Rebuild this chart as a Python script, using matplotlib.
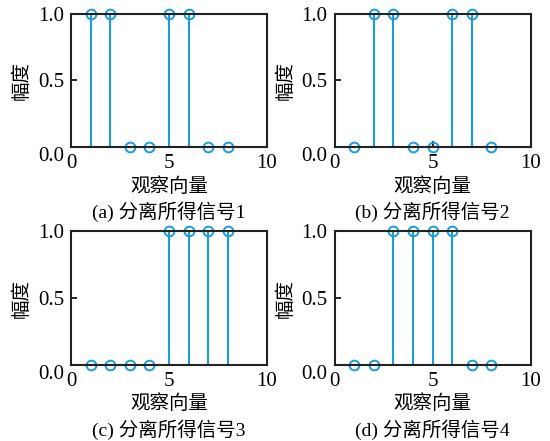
import matplotlib
matplotlib.use("Agg")
import matplotlib.pyplot as plt
import matplotlib.transforms as mtransforms

plt.rcParams['font.family'] = ['Liberation Serif', 'Noto Sans CJK SC']

# observation indices and the separated signals
obs = [1, 2, 3, 4, 5, 6, 7, 8]
sig1 = [1, 1, 0, 0, 1, 1, 0, 0]
sig2 = [0, 1, 1, 0, 0, 1, 1, 0]
sig3 = [0, 0, 0, 0, 1, 1, 1, 1]
sig4 = [0, 0, 1, 1, 1, 1, 0, 0]
signals = [sig1, sig2, sig3, sig4]
captions = ["(a) 分离所得信号1", "(b) 分离所得信号2",
            "(c) 分离所得信号3", "(d) 分离所得信号4"]
xticks = [0, 5, 10]
yticks = [0.0, 0.5, 1.0]
xlabel = "观察向量"
ylabel = "幅度"

W, H = 550, 441
fig = plt.figure(figsize=(W / 100, H / 100), dpi=100)

# axes boxes in pixels: (left, top, right, bottom)
boxes = [(71, 14, 267, 147), (334.5, 14, 530.5, 147),
         (71, 231, 267, 365), (334.5, 231, 530.5, 365)]
xlabel_y = [187, 187, 404, 404]
caption_y = [212, 212, 430, 430]

color = '#1b9cdb'
for i, (sig, cap, box) in enumerate(zip(signals, captions, boxes)):
    l, t, r, b = box
    ax = fig.add_axes([l / W, 1 - b / H, (r - l) / W, (b - t) / H])
    markerline, stemlines, baseline = ax.stem(obs, sig)
    markerline.set_markerfacecolor('none')
    markerline.set_markeredgecolor(color)
    markerline.set_markersize(7)
    markerline.set_markeredgewidth(1.4)
    markerline.set_clip_on(False)
    stemlines.set_color(color)
    stemlines.set_linewidth(1.5)
    baseline.set_visible(False)
    ax.set_xlim(0, 10)
    ax.set_ylim(0, 1)
    ax.set_xticks(xticks)
    ax.set_yticks(yticks)
    ax.set_yticklabels([f"{v:.1f}" for v in yticks])
    ax.tick_params(direction='in', length=4, width=1.2, labelsize=15)
    ax.tick_params(axis='x', pad=5)
    ax.tick_params(axis='y', pad=5)
    # the lowest y label sits a little below the baseline
    low = ax.get_yticklabels()[0]
    low.set_transform(low.get_transform() +
                      mtransforms.ScaledTranslation(0, -5 / 72, fig.dpi_scale_trans))
    for s in ax.spines.values():
        s.set_linewidth(1.5)
        s.set_color('#222222')
    ax.set_ylabel(ylabel, fontsize=14, labelpad=5)
    cx = (l + r) / 2 / W
    fig.text(cx, 1 - xlabel_y[i] / H, xlabel, ha='center', va='center', fontsize=14)
    fig.text(cx, 1 - caption_y[i] / H, cap, ha='center', va='center', fontsize=14)

fig.savefig("out.png", dpi=100)
